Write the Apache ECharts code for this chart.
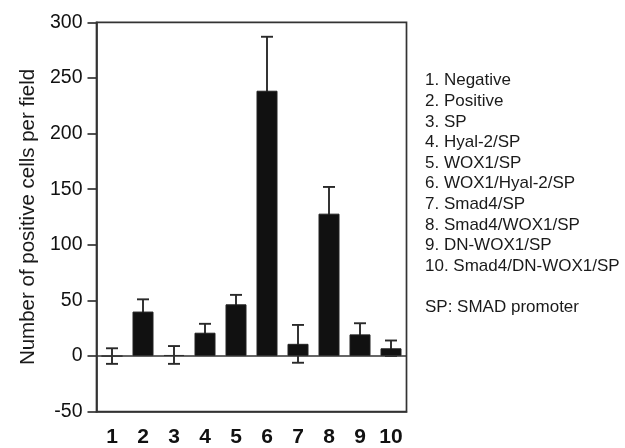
<!DOCTYPE html>
<html>
<head>
<meta charset="utf-8">
<script src="https://cdn.jsdelivr.net/npm/echarts@6/dist/echarts.min.js"></script>
<style>
html,body{margin:0;padding:0;background:#fff;}
#c{width:625px;height:448px;}
</style>
</head>
<body>
<div id="c"></div>
<script>
var categories = ['1','2','3','4','5','6','7','8','9','10'];
var groupNames = ['Negative','Positive','SP','Hyal-2/SP','WOX1/SP','WOX1/Hyal-2/SP','Smad4/SP','Smad4/WOX1/SP','DN-WOX1/SP','Smad4/DN-WOX1/SP'];
var means = [0, 40, 1, 21, 46.5, 238.5, 11, 128, 19.5, 7];
var errors = [7, 11, 8, 8, 8.5, 48.5, 17, 24, 10, 7];
var footnote = 'SP: SMAD promoter';
var yAxisTitle = 'Number of positive cells per field';

var FONT = '"Liberation Sans", Arial, Helvetica, sans-serif';
var chart = echarts.init(document.getElementById('c'));

var errData = means.map(function (m, i) { return [i, m - errors[i], m + errors[i]]; });

var legendLines = groupNames.map(function (n, i) { return categories[i] + '. ' + n; });
legendLines.push('');
legendLines.push(footnote);

var option = {
  backgroundColor: '#fff',
  animation: false,
  grid: {
    left: 96.5, right: 218.5, top: 22.3, bottom: 36.3,
    show: true, borderColor: '#333', borderWidth: 1.7, backgroundColor: 'transparent'
  },
  xAxis: {
    type: 'category',
    data: categories,
    axisLine: { onZero: false, lineStyle: { color: '#333', width: 1.7 } },
    axisTick: { alignWithLabel: true, length: 10, lineStyle: { color: '#333', width: 1.7 } },
    axisLabel: { margin: 15, color: '#111', fontSize: 21, fontWeight: 'bold', fontFamily: FONT },
    splitLine: { show: false }
  },
  yAxis: {
    type: 'value',
    min: -50, max: 300, interval: 50,
    name: yAxisTitle,
    nameLocation: 'middle',
    nameGap: 58,
    nameTextStyle: { fontSize: 20.5, color: '#1a1a1a', fontFamily: FONT },
    axisLine: { show: true, lineStyle: { color: '#333', width: 1.7 } },
    axisTick: { show: true, length: 9, lineStyle: { color: '#333', width: 1.7 } },
    axisLabel: { margin: 14, color: '#111', fontSize: 19.5, fontFamily: FONT },
    splitLine: { show: false }
  },
  series: [
    {
      type: 'custom',
      data: errData,
      z: 1,
      renderItem: function (params, api) {
        var x = api.value(0);
        var lo = api.coord([x, api.value(1)]);
        var hi = api.coord([x, api.value(2)]);
        var hw = 6;
        var st = { stroke: '#2a2a2a', lineWidth: 1.9 };
        return {
          type: 'group',
          children: [
            { type: 'line', shape: { x1: hi[0], y1: lo[1], x2: hi[0], y2: hi[1] }, style: st },
            { type: 'line', shape: { x1: hi[0] - hw, y1: hi[1], x2: hi[0] + hw, y2: hi[1] }, style: st },
            { type: 'line', shape: { x1: lo[0] - hw, y1: lo[1], x2: lo[0] + hw, y2: lo[1] }, style: st }
          ]
        };
      }
    },
    {
      type: 'bar',
      data: means,
      barWidth: 21,
      itemStyle: { color: '#111', borderColor: '#222', borderWidth: 1 },
      markLine: {
        silent: true,
        symbol: 'none',
        label: { show: false },
        lineStyle: { color: '#333', width: 1.7, type: 'solid' },
        data: [{ yAxis: 0 }]
      },
      z: 2
    }
  ],
  graphic: [
    {
      type: 'text',
      left: 425,
      top: 70.5,
      style: {
        text: legendLines.join('\n'),
        fontSize: 17,
        lineHeight: 20.6,
        fill: '#1a1a1a',
        fontFamily: FONT
      }
    }
  ]
};
chart.setOption(option);
</script>
</body>
</html>
